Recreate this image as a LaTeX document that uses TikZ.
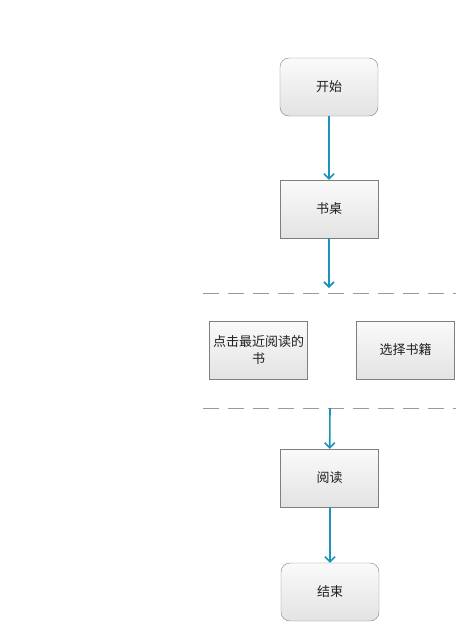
\documentclass[tikz,border=0pt]{standalone}
\usepackage{fontspec}
\newfontfamily\cjk{Noto Sans CJK SC}
\usetikzlibrary{arrows.meta}
\definecolor{flowblue}{HTML}{1C93B9}
\definecolor{boxline}{HTML}{7F7F7F}
\definecolor{sepline}{HTML}{9A9A9A}
\begin{document}
\begin{tikzpicture}[x=1pt,y=-1pt]
\tikzset{
	box/.style={draw=boxline, top color=white!96!gray, bottom color=gray!22,
		minimum width=98pt, minimum height=58pt, inner sep=1pt,
		font=\cjk\fontsize{13}{17}\selectfont, text=black!88, align=center},
	rbox/.style={box, rounded corners=9pt},
	flow/.style={draw=flowblue, line width=1.6pt, -{Straight Barb[length=5pt,width=10pt,line width=1.6pt]}},
	sep/.style={draw=sepline, line width=0.8pt, dash pattern=on 16pt off 9pt}
}
\useasboundingbox (0,0) rectangle (456,622);

% 开始 -- 书桌
\node[rbox] (start) at(329,87)  {开始};
\node[box]  (desk)  at(329,209) {书桌};

% 分隔线
\draw[sep] (203,293) -- (456,293);
\draw[sep] (203,408) -- (456,408);
\coordinate (sep_1) at(329,288);
\coordinate (sep_2) at(330,408);

% 两个选择
\node[box] (recent) at(258.5,350) {点击最近阅读的\\书};
\node[box] (choose) at(405.5,350) {选择书籍};

% 阅读 -- 结束
\node[box]  (read) at(329.5,478) {阅读};
\node[rbox] (end)  at(330,592)   {结束};

% 连线
\draw[flow] (start) -- (desk);
\draw[flow] (desk) -- (sep_1);
\draw[flow] (sep_2) -- (read);
\draw[flow] (read.south -| end) -- (end);

\end{tikzpicture}
\end{document}
